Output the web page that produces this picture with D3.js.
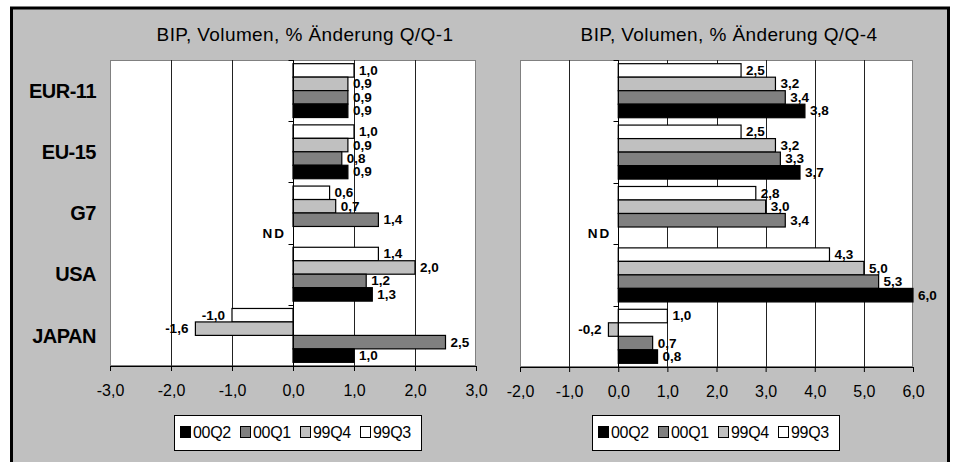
<!DOCTYPE html>
<html>
<head>
<meta charset="utf-8">
<script src="https://cdn.jsdelivr.net/npm/d3@7"></script>
<style>
    body { margin: 0; background: #fff; }
    svg { display: block; font-family: "Liberation Sans", Arial, sans-serif; }
</style>
</head>
<body>
<svg width="954" height="462"></svg>
<script>
    const categories = ['EUR-11', 'EU-15', 'G7', 'USA', 'JAPAN'];
    // order of the bars inside one category, top to bottom
    const seriesNames = ['99Q3', '99Q4', '00Q1', '00Q2'];
    const legendOrder = ['00Q2', '00Q1', '99Q4', '99Q3'];
    const seriesColors = ['#ffffff', '#c0c0c0', '#808080', '#000000'];

    // Q/Q-1
    const q1_99Q3 = [1.0, 1.0, 0.6, 1.4, -1.0];
    const q1_99Q4 = [0.9, 0.9, 0.7, 2.0, -1.6];
    const q1_00Q1 = [0.9, 0.8, 1.4, 1.2, 2.5];
    const q1_00Q2 = [0.9, 0.9, null, 1.3, 1.0];

    // Q/Q-4
    const q4_99Q3 = [2.5, 2.5, 2.8, 4.3, 1.0];
    const q4_99Q4 = [3.2, 3.2, 3.0, 5.0, -0.2];
    const q4_00Q1 = [3.4, 3.3, 3.4, 5.3, 0.7];
    const q4_00Q2 = [3.8, 3.7, null, 6.0, 0.8];

    const ticksQ1 = [-3, -2, -1, 0, 1, 2, 3];
    const ticksQ4 = [-2, -1, 0, 1, 2, 3, 4, 5, 6];

    const titleQ1 = 'BIP, Volumen, % Änderung Q/Q-1';
    const titleQ4 = 'BIP, Volumen, % Änderung Q/Q-4';
    const missingLabel = 'ND';

    const locale = d3.formatLocale({decimal: ',', thousands: '.', grouping: [3], currency: ['', ''], minus: '-'});
    const fmt = locale.format('.1f');
    const font = '"Liberation Sans", Arial, sans-serif';

    const svg = d3.select('svg');

    // outer frame
    svg.append('rect')
        .attr('x', 11.5).attr('y', 8)
        .attr('width', 937).attr('height', 500)
        .attr('fill', '#c0c0c0')
        .attr('stroke', '#000')
        .attr('stroke-width', 3);

    const panels = [
        {title: titleQ1, titleX: 305, series: [q1_99Q3, q1_99Q4, q1_00Q1, q1_00Q2],
            ticks: ticksQ1, x0: 110, x1: 476, y0: 60, y1: 366, legendX: 174, catLabels: true},
        {title: titleQ4, titleX: 729, series: [q4_99Q3, q4_99Q4, q4_00Q1, q4_00Q2],
            ticks: ticksQ4, x0: 520, x1: 913, y0: 60, y1: 367, legendX: 592, catLabels: false}
    ];

    const drawPanel = (p) => {
        const g = svg.append('g');

        const x = d3.scaleLinear()
            .domain(d3.extent(p.ticks))
            .range([p.x0, p.x1]);

        const y = d3.scaleBand()
            .domain(categories)
            .range([p.y0, p.y1])
            .paddingInner(0.12)
            .paddingOuter(0.06);

        const ySub = d3.scaleBand()
            .domain(seriesNames)
            .range([0, y.bandwidth()]);

        g.append('text')
            .attr('x', p.titleX)
            .attr('y', 41)
            .attr('text-anchor', 'middle')
            .attr('font-size', 19)
            .attr('letter-spacing', 0.4)
            .text(p.title);

        // plot area
        g.append('rect')
            .attr('x', p.x0 + 0.5).attr('y', p.y0 + 0.5)
            .attr('width', p.x1 - p.x0 - 1).attr('height', p.y1 - p.y0 - 1)
            .attr('fill', '#fff')
            .attr('stroke', '#808080');

        g.selectAll('.grid')
            .data(p.ticks.filter(t => t !== 0 && t !== p.ticks[0] && t !== p.ticks[p.ticks.length - 1]))
            .enter().append('line')
            .attr('class', 'grid')
            .attr('x1', d => Math.round(x(d)) + 0.5)
            .attr('x2', d => Math.round(x(d)) + 0.5)
            .attr('y1', p.y0)
            .attr('y2', p.y1)
            .attr('stroke', '#222');

        const bars = [];
        categories.forEach((c, ci) => {
            p.series.forEach((s, si) => {
                bars.push({cat: c, name: seriesNames[si], color: seriesColors[si], value: s[ci]});
            });
        });

        const barY = d => y(d.cat) + ySub(d.name);

        g.selectAll('.bar')
            .data(bars.filter(d => d.value !== null))
            .enter().append('rect')
            .attr('class', 'bar')
            .attr('x', d => x(Math.min(0, d.value)))
            .attr('y', barY)
            .attr('width', d => Math.abs(x(d.value) - x(0)))
            .attr('height', ySub.bandwidth())
            .attr('fill', d => d.color)
            .attr('stroke', '#000')
            .attr('stroke-width', 1.2);

        g.selectAll('.val')
            .data(bars)
            .enter().append('text')
            .attr('class', 'val')
            .attr('x', d => d.value === null ? x(0) - 7 : d.value < 0 ? x(d.value) - 7 : x(d.value) + 5)
            .attr('y', d => barY(d) + ySub.bandwidth() / 2)
            .attr('dy', '0.33em')
            .attr('text-anchor', d => (d.value === null || d.value < 0) ? 'end' : 'start')
            .attr('font-size', 13.5)
            .attr('font-weight', 'bold')
            .attr('letter-spacing', d => d.value === null ? 2 : 0)
            .text(d => d.value === null ? missingLabel : fmt(d.value));

        // zero axis with category ticks
        const zx = Math.round(x(0)) + 0.5;
        g.append('line')
            .attr('x1', zx).attr('x2', zx)
            .attr('y1', p.y0).attr('y2', p.y1)
            .attr('stroke', '#000');

        const bounds = categories.map(c => y(c) - y.step() * y.paddingInner() / 2).concat([p.y1]);
        g.selectAll('.ytick')
            .data(bounds)
            .enter().append('line')
            .attr('class', 'ytick')
            .attr('x1', zx - 5).attr('x2', zx)
            .attr('y1', d => Math.round(d) + 0.5)
            .attr('y2', d => Math.round(d) + 0.5)
            .attr('stroke', '#000');

        const xAxis = g.append('g')
            .attr('transform', `translate(0,${p.y1})`)
            .call(d3.axisBottom(x).tickValues(p.ticks).tickSize(5).tickSizeOuter(0).tickFormat(fmt));
        xAxis.select('.domain').attr('stroke', '#000');
        xAxis.selectAll('.tick line').attr('stroke', '#000');
        xAxis.selectAll('text')
            .attr('font-size', 16)
            .attr('font-family', font)
            .attr('fill', '#000')
            .attr('y', 19)
            .attr('dy', '0.71em');

        if (p.catLabels) {
            g.selectAll('.cat')
                .data(categories)
                .enter().append('text')
                .attr('class', 'cat')
                .attr('x', 96)
                .attr('y', d => y(d) + y.bandwidth() / 2)
                .attr('dy', '0.36em')
                .attr('text-anchor', 'end')
                .attr('font-size', 20)
                .attr('font-weight', 'bold')
                .attr('letter-spacing', -0.5)
                .text(d => d);
        }

        // legend
        const lg = g.append('g').attr('transform', `translate(${p.legendX},415)`);
        lg.append('rect')
            .attr('x', 0.5).attr('y', 0.5)
            .attr('width', 247).attr('height', 35)
            .attr('fill', '#fff')
            .attr('stroke', '#000');

        const items = lg.selectAll('.item')
            .data(legendOrder)
            .enter().append('g')
            .attr('class', 'item')
            .attr('transform', (d, i) => `translate(${6 + i * 60},0)`);

        items.append('rect')
            .attr('x', 0.5).attr('y', 11.5)
            .attr('width', 10).attr('height', 11)
            .attr('fill', d => seriesColors[seriesNames.indexOf(d)])
            .attr('stroke', '#000');

        items.append('text')
            .attr('x', 13)
            .attr('y', 23)
            .attr('font-size', 16)
            .attr('letter-spacing', -0.3)
            .text(d => d);
    };

    panels.forEach(drawPanel);
</script>
</body>
</html>
